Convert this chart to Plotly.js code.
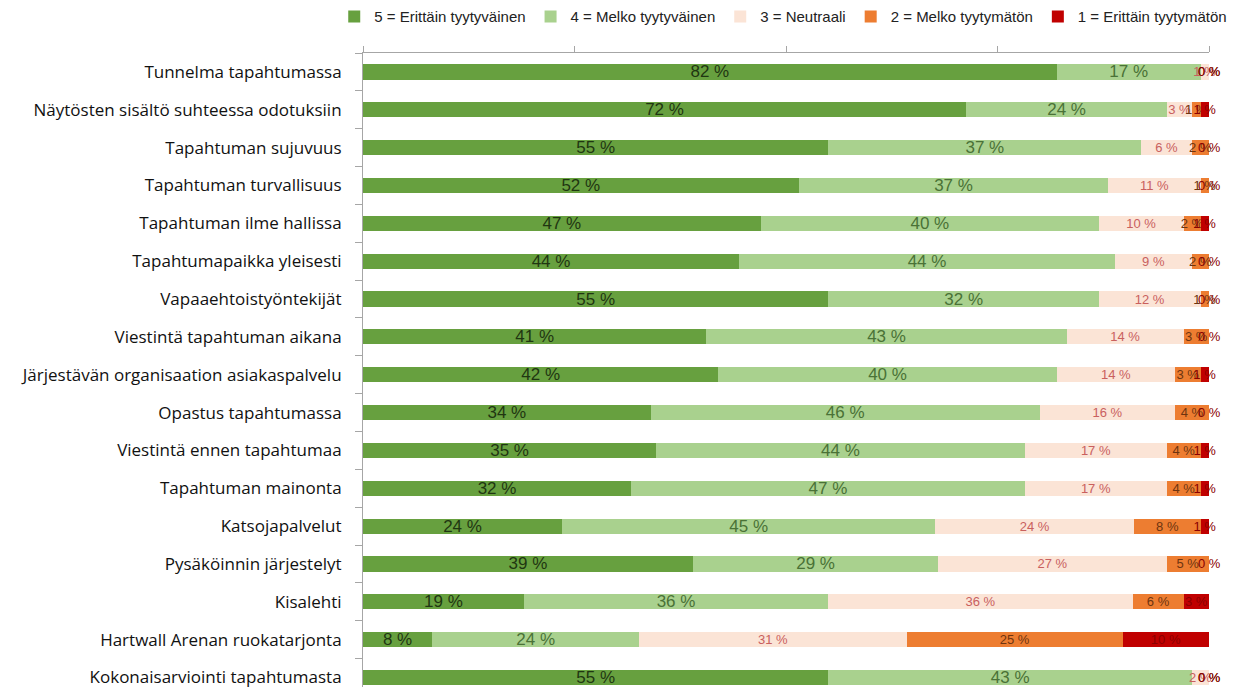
<!DOCTYPE html>
<html>
<head>
<meta charset="utf-8">
<script src="https://cdn.plot.ly/plotly-3.0.1.min.js"></script>
<style>
  html, body { margin: 0; padding: 0; background: #ffffff; }
  #chart { width: 1237px; height: 687px; }
</style>
</head>
<body>
<div id="chart"></div>
<script>
const categories = [
  "Tunnelma tapahtumassa",
  "Näytösten sisältö suhteessa odotuksiin",
  "Tapahtuman sujuvuus",
  "Tapahtuman turvallisuus",
  "Tapahtuman ilme hallissa",
  "Tapahtumapaikka yleisesti",
  "Vapaaehtoistyöntekijät",
  "Viestintä tapahtuman aikana",
  "Järjestävän organisaation asiakaspalvelu",
  "Opastus tapahtumassa",
  "Viestintä ennen tapahtumaa",
  "Tapahtuman mainonta",
  "Katsojapalvelut",
  "Pysäköinnin järjestelyt",
  "Kisalehti",
  "Hartwall Arenan ruokatarjonta",
  "Kokonaisarviointi tapahtumasta"
];
const seriesNames = [
  "5 = Erittäin tyytyväinen",
  "4 = Melko tyytyväinen",
  "3 = Neutraali",
  "2 = Melko tyytymätön",
  "1 = Erittäin tyytymätön"
];
const v5 = [82, 72, 55, 52, 47, 44, 55, 41, 42, 34, 35, 32, 24, 39, 19, 8, 55];
const v4 = [17, 24, 37, 37, 40, 44, 32, 43, 40, 46, 44, 47, 45, 29, 36, 24, 43];
const v3 = [1, 3, 6, 11, 10, 9, 12, 14, 14, 16, 17, 17, 24, 27, 36, 31, 2];
const v2 = [0, 1, 2, 1, 2, 2, 1, 3, 3, 4, 4, 4, 8, 5, 6, 25, 0];
const v1 = [0, 1, 0, 0, 1, 0, 0, 0, 1, 0, 1, 1, 1, 0, 3, 10, 0];

const series = [v5, v4, v3, v2, v1];
const barColors = ["#67a03f", "#a9d18e", "#fbe4d6", "#ed7d31", "#c00000"];
const textColors = ["#1f3611", "#4a7236", "#c9605e", "#6e3410", "#8a0000"];
const textSizes = [17, 17, 13, 13, 13];
const FONT = "'Liberation Sans', Arial, sans-serif";
const LABEL_FONT = "'Open Sans', 'Liberation Sans', sans-serif";

const traces = series.map((vals, i) => ({
  type: "bar",
  orientation: "h",
  name: seriesNames[i],
  y: categories,
  x: vals,
  text: vals.map(v => v + " %"),
  texttemplate: "%{text}",
  textposition: "inside",
  insidetextanchor: "middle",
  constraintext: "none",
  textangle: 0,
  cliponaxis: false,
  textfont: { family: FONT, size: textSizes[i], color: textColors[i] },
  marker: { color: barColors[i], line: { width: 0 } },
  hoverinfo: "skip"
}));

// labels for zero-width segments (bars of width 0 carry no inside text)
const annotations = [];
categories.forEach((cat, r) => {
  const total = series.reduce((s, arr) => s + arr[r], 0);
  let cum = 0;
  series.forEach((arr, i) => {
    const v = arr[r];
    if (v === 0) {
      annotations.push({
        x: 100 * cum / total, y: cat, xref: "x", yref: "y",
        text: "0 %", showarrow: false, xanchor: "center", yanchor: "middle",
        font: { family: FONT, size: textSizes[i], color: textColors[i] }
      });
    }
    cum += v;
  });
});

const layout = {
  width: 1237,
  height: 687,
  margin: { l: 362.5, r: 28, t: 53, b: 0, pad: 0 },
  paper_bgcolor: "#ffffff",
  plot_bgcolor: "#ffffff",
  barmode: "stack",
  barnorm: "percent",
  bargap: 0.6,
  showlegend: true,
  legend: {
    orientation: "h",
    x: -0.034, xanchor: "left",
    y: 1.057, yanchor: "middle",
    font: { family: FONT, size: 15, color: "#222222" },
    traceorder: "normal",
    itemwidth: 30,
    bgcolor: "rgba(0,0,0,0)"
  },
  xaxis: {
    side: "top",
    range: [0, 100],
    tickvals: [0, 25, 50, 75, 100],
    showticklabels: false,
    ticks: "outside",
    ticklen: 6,
    tickcolor: "#a6a6a6",
    showline: true,
    linecolor: "#a6a6a6",
    linewidth: 1,
    showgrid: false,
    zeroline: false,
    fixedrange: true
  },
  yaxis: {
    type: "category",
    categoryorder: "array",
    categoryarray: categories,
    range: [16.25, -0.5],
    ticks: "outside",
    tickson: "boundaries",
    ticklen: 7,
    tickcolor: "#a6a6a6",
    showline: true,
    linecolor: "#a6a6a6",
    linewidth: 1,
    showgrid: false,
    zeroline: false,
    ticklabelstandoff: 17,
    tickfont: { family: LABEL_FONT, size: 17, color: "#111111" },
    fixedrange: true
  },
  annotations: annotations
};

Plotly.newPlot("chart", traces, layout, { displayModeBar: false, staticPlot: true });
</script>
</body>
</html>
